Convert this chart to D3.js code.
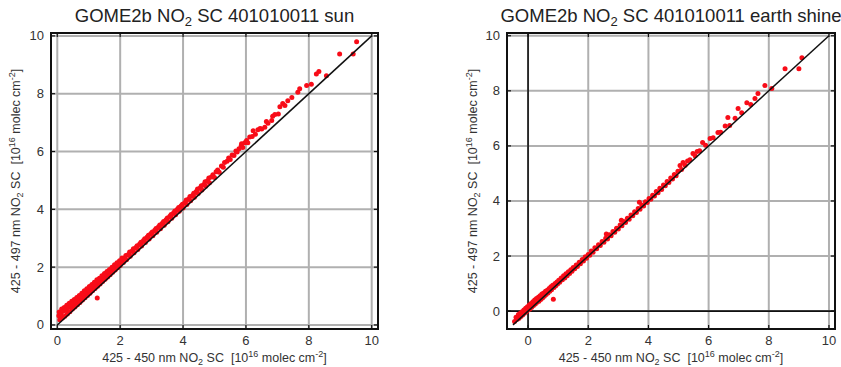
<!DOCTYPE html>
<html>
<head>
<meta charset="utf-8">
<script src="https://cdn.jsdelivr.net/npm/d3@7"></script>
<style>
  html, body { margin: 0; padding: 0; background: #fff; }
  svg { display: block; font-family: "Liberation Sans", Arial, Helvetica, sans-serif; }
  text { white-space: pre; }
</style>
</head>
<body>
<svg id="chart" width="841" height="367"></svg>
<script>
// Slant column comparison: 425-450 nm fit vs 425-497 nm fit (units 1e16 molec/cm2)
const ticks = [0, 2, 4, 6, 8, 10];
const tickLabels = ["0", "2", "4", "6", "8", "10"];

const sunTitle = "SC 401010011 sun";
const earthTitle = "SC 401010011 earth shine";

const sunDomainX = [-0.2, 10.2];
const sunDomainY = [-0.14, 10.1];
const earthDomainX = [-0.7, 10.2];
const earthDomainY = [-0.65, 10.1];

// 1:1 reference line end points
const sunRefLine = [[0, 0], [10, 10]];
const earthRefLine = [[-0.5, -0.5], [10, 10]];

// Sun reference spectrum: [x, y]
const sunPoints = [
  [0.05,0.32],[0.06,0.45],[0.08,0.18],[0.12,0.38],[0.14,0.55],[0.16,0.24],[0.2,0.47],[0.22,0.6],[0.24,0.3],
  [0.28,0.52],[0.3,0.68],[0.32,0.38],[0.36,0.6],[0.38,0.75],[0.4,0.46],[0.44,0.66],[0.46,0.82],[0.48,0.55],
  [0.52,0.74],[0.54,0.88],[0.56,0.62],[0.6,0.8],[0.62,0.95],[0.64,0.7],[0.68,0.9],[0.7,1.02],[0.72,0.78],
  [0.76,0.97],[0.78,1.1],[0.8,0.86],[0.84,1.05],[0.86,1.18],[0.88,0.94],[0.92,1.12],[0.94,1.25],[0.96,1.02],
  [1.0,1.2],[1.02,1.33],[1.04,1.1],[1.08,1.28],[1.1,1.4],[1.12,1.18],[1.16,1.36],[1.18,1.48],[1.2,1.26],
  [1.24,1.44],[1.26,1.56],[1.27,0.93],[1.28,1.34],[1.32,1.52],[1.34,1.62],[1.36,1.42],[1.4,1.6],[1.42,1.7],
  [1.44,1.5],[1.48,1.68],[1.5,1.78],[1.52,1.58],[1.56,1.76],[1.58,1.85],[1.6,1.66],[1.64,1.84],[1.66,1.92],
  [1.68,1.74],[1.72,1.92],[1.74,2.0],[1.76,1.82],[1.8,1.99],[1.82,2.08],[1.84,1.9],[1.88,2.07],[1.9,2.15],
  [1.92,1.98],[1.96,2.14],[1.98,2.22],[2.0,2.06],[2.04,2.22],[2.06,2.32],[2.1,2.16],[2.14,2.32],[2.18,2.4],
  [2.2,2.26],[2.26,2.44],[2.3,2.52],[2.32,2.38],[2.38,2.56],[2.42,2.64],[2.44,2.5],[2.5,2.68],[2.54,2.74],
  [2.56,2.61],[2.62,2.8],[2.66,2.86],[2.68,2.73],[2.74,2.92],[2.78,2.98],[2.8,2.85],[2.86,3.04],[2.9,3.1],
  [2.92,2.97],[2.98,3.16],[3.02,3.22],[3.04,3.09],[3.1,3.28],[3.14,3.34],[3.16,3.21],[3.22,3.4],[3.26,3.46],
  [3.28,3.33],[3.34,3.52],[3.38,3.58],[3.4,3.45],[3.46,3.64],[3.5,3.7],[3.52,3.57],[3.58,3.76],[3.62,3.82],
  [3.64,3.69],[3.7,3.88],[3.74,3.94],[3.76,3.81],[3.82,4.0],[3.86,4.06],[3.88,3.93],[3.94,4.12],[3.98,4.18],
  [4.0,4.05],[4.06,4.24],[4.1,4.32],[4.12,4.17],[4.18,4.36],[4.22,4.44],[4.24,4.3],[4.3,4.48],[4.34,4.56],
  [4.36,4.42],[4.42,4.62],[4.46,4.7],[4.48,4.55],[4.54,4.74],[4.58,4.82],[4.6,4.67],[4.66,4.86],[4.7,4.95],
  [4.72,4.8],[4.78,4.99],[4.82,5.08],[4.84,4.92],[4.9,5.12],[4.95,5.2],[5.0,5.1],[5.05,5.3],[5.1,5.36],
  [5.15,5.28],[5.22,5.5],[5.28,5.46],[5.32,5.62],[5.4,5.66],[5.45,5.78],[5.5,5.72],[5.56,5.88],[5.62,5.86],
  [5.68,6.02],[5.72,5.98],[5.78,6.1],[5.85,6.2],[5.86,6.27],[5.9,6.14],[5.96,6.3],[6.02,6.38],[6.06,6.3],
  [6.12,6.5],[6.2,6.52],[6.23,6.72],[6.3,6.6],[6.38,6.75],[6.45,6.8],[6.5,6.78],[6.6,6.84],[6.65,7.04],
  [6.7,6.98],[6.82,7.07],[6.85,7.22],[6.92,7.28],[7.03,7.3],[7.08,7.55],[7.17,7.66],[7.24,7.59],[7.33,7.76],
  [7.46,7.87],[7.65,8.05],[7.71,8.17],[7.93,8.28],[8.08,8.33],[8.24,8.68],[8.32,8.77],[8.56,8.62],
  [8.98,9.37],[9.41,9.37],[9.52,9.8]
];

// Earth shine reference spectrum: [x, y]
const earthPoints = [
  [-0.45,-0.38],[-0.4,-0.22],[-0.36,-0.3],[-0.32,-0.12],[-0.3,-0.26],[-0.26,-0.08],[-0.24,-0.2],[-0.2,-0.02],
  [-0.18,-0.14],[-0.14,0.04],[-0.12,-0.08],[-0.08,0.1],[-0.06,-0.02],[-0.02,0.16],[0.0,0.04],[0.04,0.22],
  [0.06,0.08],[0.1,0.28],[0.12,0.14],[0.16,0.34],[0.18,0.2],[0.22,0.4],[0.24,0.26],[0.28,0.46],[0.3,0.32],
  [0.34,0.5],[0.36,0.36],[0.4,0.56],[0.42,0.42],[0.46,0.62],[0.48,0.48],[0.52,0.66],[0.54,0.54],[0.58,0.72],
  [0.6,0.6],[0.64,0.76],[0.66,0.66],[0.7,0.82],[0.72,0.72],[0.76,0.88],[0.78,0.78],[0.82,0.94],[0.84,0.43],
  [0.86,0.86],[0.9,1.0],[0.92,0.92],[0.96,1.06],[0.98,0.98],[1.02,1.12],[1.05,1.05],[1.1,1.2],[1.14,1.14],
  [1.18,1.28],[1.22,1.2],[1.26,1.36],[1.3,1.28],[1.34,1.43],[1.38,1.37],[1.42,1.5],[1.46,1.45],[1.5,1.58],
  [1.55,1.54],[1.6,1.67],[1.64,1.62],[1.7,1.77],[1.74,1.72],[1.8,1.87],[1.84,1.82],[1.9,1.97],[1.94,1.92],
  [2.0,2.06],[2.05,2.03],[2.1,2.18],[2.16,2.14],[2.22,2.3],[2.28,2.26],[2.34,2.41],[2.4,2.38],[2.46,2.53],
  [2.52,2.5],[2.58,2.65],[2.6,2.8],[2.64,2.62],[2.7,2.77],[2.76,2.74],[2.82,2.89],[2.88,2.86],[2.94,3.01],
  [3.0,2.98],[3.06,3.13],[3.1,3.3],[3.12,3.1],[3.18,3.25],[3.24,3.22],[3.3,3.37],[3.36,3.34],[3.42,3.49],
  [3.48,3.46],[3.54,3.61],[3.6,3.58],[3.66,3.73],[3.7,3.95],[3.72,3.7],[3.78,3.85],[3.84,3.82],[3.9,3.97],
  [3.96,3.94],[4.02,4.09],[4.08,4.06],[4.14,4.21],[4.2,4.18],[4.26,4.34],[4.32,4.3],[4.38,4.46],[4.44,4.42],
  [4.5,4.58],[4.56,4.55],[4.62,4.71],[4.68,4.67],[4.74,4.83],[4.8,4.8],[4.86,4.96],[4.92,4.92],[4.98,5.08],
  [5.05,5.29],[5.1,5.14],[5.15,5.4],[5.22,5.3],[5.3,5.45],[5.38,5.5],[5.48,5.72],[5.55,5.64],[5.62,5.8],
  [5.7,5.82],[5.8,6.12],[5.9,6.02],[6.05,6.27],[6.15,6.3],[6.31,6.49],[6.4,6.5],[6.55,6.72],[6.64,7.03],
  [6.7,6.74],[6.88,7.0],[6.98,7.36],[7.1,7.2],[7.27,7.57],[7.4,7.5],[7.54,7.72],[7.64,7.9],[7.87,8.19],
  [8.1,8.08],[8.54,8.8],[9.0,8.8],[9.1,9.2]
];

const svg = d3.select("#chart");

function drawPanel(cfg) {
  const x = d3.scaleLinear().domain(cfg.domainX).range([cfg.left, cfg.right]);
  const y = d3.scaleLinear().domain(cfg.domainY).range([cfg.bottom, cfg.top]);
  const g = svg.append("g");

  // grid
  g.append("g").selectAll("line").data(ticks).join("line")
    .attr("x1", d => x(d)).attr("x2", d => x(d))
    .attr("y1", cfg.top).attr("y2", cfg.bottom)
    .attr("stroke", "#b0b0b0").attr("stroke-width", 2);
  g.append("g").selectAll("line").data(ticks).join("line")
    .attr("x1", cfg.left).attr("x2", cfg.right)
    .attr("y1", d => y(d)).attr("y2", d => y(d))
    .attr("stroke", "#b0b0b0").attr("stroke-width", 2);

  // zero lines
  if (cfg.zeroLines) {
    g.append("line").attr("x1", x(0)).attr("x2", x(0)).attr("y1", cfg.top).attr("y2", cfg.bottom)
      .attr("stroke", "#111").attr("stroke-width", 1.6);
    g.append("line").attr("x1", cfg.left).attr("x2", cfg.right).attr("y1", y(0)).attr("y2", y(0))
      .attr("stroke", "#111").attr("stroke-width", 1.6);
  }

  // points
  g.append("g").selectAll("circle").data(cfg.points).join("circle")
    .attr("cx", d => x(d[0])).attr("cy", d => y(d[1])).attr("r", 2.5)
    .attr("fill", "#f80c18");

  // 1:1 line
  g.append("line")
    .attr("x1", x(cfg.refLine[0][0])).attr("y1", y(cfg.refLine[0][1]))
    .attr("x2", x(cfg.refLine[1][0])).attr("y2", y(cfg.refLine[1][1]))
    .attr("stroke", "#111").attr("stroke-width", 1.5);

  // inward ticks on all four sides
  const tl = 4;
  ticks.forEach(t => {
    g.append("line").attr("x1", x(t)).attr("x2", x(t)).attr("y1", cfg.bottom).attr("y2", cfg.bottom - tl).attr("stroke", "#111").attr("stroke-width", 1.2);
    g.append("line").attr("x1", x(t)).attr("x2", x(t)).attr("y1", cfg.top).attr("y2", cfg.top + tl).attr("stroke", "#111").attr("stroke-width", 1.2);
    g.append("line").attr("x1", cfg.left).attr("x2", cfg.left + tl).attr("y1", y(t)).attr("y2", y(t)).attr("stroke", "#111").attr("stroke-width", 1.2);
    g.append("line").attr("x1", cfg.right).attr("x2", cfg.right - tl).attr("y1", y(t)).attr("y2", y(t)).attr("stroke", "#111").attr("stroke-width", 1.2);
  });

  // frame
  g.append("rect").attr("x", cfg.left).attr("y", cfg.top)
    .attr("width", cfg.right - cfg.left).attr("height", cfg.bottom - cfg.top)
    .attr("fill", "none").attr("stroke", "#111").attr("stroke-width", 2);

  // tick labels
  g.append("g").selectAll("text").data(ticks).join("text")
    .attr("x", d => x(d)).attr("y", cfg.bottom + 16)
    .attr("text-anchor", "middle").attr("font-size", 13).attr("fill", "#333")
    .text((d, i) => tickLabels[i]);
  g.append("g").selectAll("text").data(ticks).join("text")
    .attr("x", cfg.left - 7).attr("y", d => y(d) + 4.5)
    .attr("text-anchor", "end").attr("font-size", 13).attr("fill", "#333")
    .text((d, i) => tickLabels[i]);

  const cx = (cfg.left + cfg.right) / 2;
  const cy = (cfg.top + cfg.bottom) / 2;

  // title
  const title = g.append("text").attr("x", cx).attr("y", 22)
    .attr("text-anchor", "middle").attr("font-size", 18.5).attr("fill", "#222");
  title.append("tspan").text("GOME2b NO");
  title.append("tspan").attr("font-size", 13).attr("dy", 4).text("2");
  title.append("tspan").attr("dy", -4).text(" " + cfg.title);

  // axis titles
  function axisTitle(sel, range) {
    sel.append("tspan").text(range + " nm NO");
    sel.append("tspan").attr("font-size", 9).attr("dy", 3).text("2");
    sel.append("tspan").attr("dy", -3).text(" SC  [10");
    sel.append("tspan").attr("font-size", 9).attr("dy", -5).text("16");
    sel.append("tspan").attr("dy", 5).text(" molec cm");
    sel.append("tspan").attr("font-size", 9).attr("dy", -5).text("-2");
    sel.append("tspan").attr("dy", 5).text("]");
  }
  const xt = g.append("text").attr("x", cx).attr("y", cfg.bottom + 33)
    .attr("text-anchor", "middle").attr("font-size", 12.5).attr("fill", "#333");
  axisTitle(xt, "425 - 450");
  const yt = g.append("text").attr("transform", `translate(${cfg.yTitleX},${cy}) rotate(-90)`)
    .attr("text-anchor", "middle").attr("font-size", 12.5).attr("fill", "#333");
  axisTitle(yt, "425 - 497");
}

drawPanel({
  left: 51, right: 378, top: 33, bottom: 329,
  domainX: sunDomainX, domainY: sunDomainY,
  points: sunPoints, refLine: sunRefLine, title: sunTitle,
  zeroLines: false, yTitleX: 20
});

drawPanel({
  left: 507, right: 835, top: 33, bottom: 329,
  domainX: earthDomainX, domainY: earthDomainY,
  points: earthPoints, refLine: earthRefLine, title: earthTitle,
  zeroLines: true, yTitleX: 477
});
</script>
</body>
</html>
